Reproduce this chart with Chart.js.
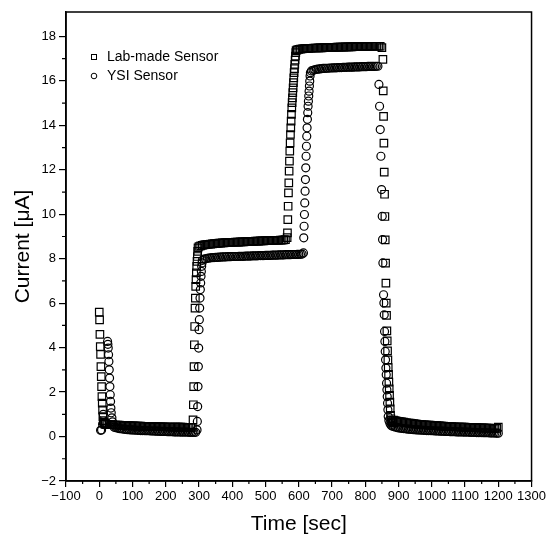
<!DOCTYPE html>
<html>
<head>
<meta charset="utf-8">
<script src="https://cdn.jsdelivr.net/npm/chart.js@4.4.0/dist/chart.umd.min.js"></script>
<style>
  body { margin: 0; background: #fff; }
</style>
</head>
<body>
<canvas id="chart" width="548" height="541"></canvas>
<script>
// Lab-made sensor (squares): time [sec] and current [uA], one line per stretch of the curve
let labTime = [
    0, 1, 2, 3, 4, 5, 6, 7, 8, 9, 10, 11, 12, 14, 16, 18,
    20, 25, 30, 35, 40, 45, 50, 55, 60, 65,
    70, 75, 80, 85, 90, 95, 100, 105, 110, 115,
    120, 125, 130, 135, 140, 145, 150, 155, 160, 165,
    170, 175, 180, 185, 190, 195, 200, 205, 210, 215,
    220, 225, 230, 235, 240, 245, 250, 255, 260, 265,
    270, 275, 280,
    282, 283, 284, 285, 286, 287, 288, 289, 290, 291, 292, 293, 294, 295, 296, 297,
    300, 305, 310, 315, 320, 325, 330, 335, 340, 345,
    350, 355, 360, 365, 370, 375, 380, 385, 390, 395,
    400, 405, 410, 415, 420, 425, 430, 435, 440, 445,
    450, 455, 460, 465, 470, 475, 480, 485, 490, 495,
    500, 505, 510, 515, 520, 525, 530, 535, 540, 545,
    550, 555, 560,
    565, 566, 567, 568, 569, 570, 571, 572, 573, 574, 575, 576, 577, 578,
    579, 580, 581, 582, 583, 584, 585, 586, 587, 588, 589, 590, 591, 592,
    595, 600, 605, 610, 615, 620, 625, 630, 635, 640,
    645, 650, 655, 660, 665, 670, 675, 680, 685, 690,
    695, 700, 705, 710, 715, 720, 725, 730, 735, 740,
    745, 750, 755, 760, 765, 770, 775, 780, 785, 790,
    795, 800, 805, 810, 815, 820, 825, 830, 835, 840,
    845, 850,
    853, 854, 855, 856, 857, 858, 859, 860, 861, 862, 863, 864, 865, 866,
    867, 868, 869, 870, 871, 872, 873, 874, 875, 876, 877, 879, 881, 883,
    885, 890, 895, 900, 905, 910, 915, 920, 925, 930,
    935, 940, 945, 950, 955, 960, 965, 970, 975, 980,
    985, 990, 995, 1000, 1005, 1010, 1015, 1020, 1025, 1030,
    1035, 1040, 1045, 1050, 1055, 1060, 1065, 1070, 1075, 1080,
    1085, 1090, 1095, 1100, 1105, 1110, 1115, 1120, 1125, 1130,
    1135, 1140, 1145, 1150, 1155, 1160, 1165, 1170, 1175, 1180,
    1185, 1190, 1195, 1200
]
let labCurrent = [
    5.6, 5.25, 4.6, 4.05, 3.7, 3.15, 2.7, 2.25, 1.8, 1.5, 1.2, 0.9, 0.72, 0.64, 0.6, 0.57,
    0.56, 0.55, 0.54, 0.53, 0.53, 0.52, 0.52, 0.51, 0.51, 0.5,
    0.5, 0.5, 0.49, 0.49, 0.49, 0.48, 0.48, 0.48, 0.47, 0.47,
    0.47, 0.47, 0.46, 0.46, 0.46, 0.46, 0.45, 0.45, 0.45, 0.45,
    0.45, 0.44, 0.44, 0.44, 0.44, 0.44, 0.43, 0.43, 0.43, 0.43,
    0.43, 0.42, 0.42, 0.42, 0.42, 0.42, 0.42, 0.41, 0.41, 0.41,
    0.41, 0.41, 0.41,
    0.75, 1.43, 2.25, 3.15, 4.13, 4.95, 5.78, 6.23, 6.76, 7.06, 7.36, 7.66, 7.88, 8.1, 8.33, 8.49,
    8.55, 8.58, 8.6, 8.62, 8.63, 8.64, 8.65, 8.66, 8.67, 8.68,
    8.68, 8.69, 8.7, 8.7, 8.71, 8.71, 8.72, 8.72, 8.73, 8.73,
    8.74, 8.74, 8.75, 8.75, 8.75, 8.76, 8.76, 8.76, 8.77, 8.77,
    8.77, 8.78, 8.78, 8.78, 8.79, 8.79, 8.79, 8.8, 8.8, 8.8,
    8.81, 8.81, 8.81, 8.82, 8.82, 8.82, 8.83, 8.83, 8.83, 8.84,
    8.84, 8.85, 8.86,
    8.95, 9.16, 9.76, 10.36, 10.96, 11.41, 11.94, 12.39, 12.84, 13.21, 13.59, 13.89, 14.19, 14.49,
    14.79, 15.02, 15.24, 15.47, 15.69, 15.92, 16.14, 16.37, 16.55, 16.74, 16.94, 17.12, 17.27, 17.36,
    17.4, 17.42, 17.43, 17.44, 17.45, 17.45, 17.46, 17.46, 17.47, 17.47,
    17.48, 17.48, 17.48, 17.49, 17.49, 17.49, 17.5, 17.5, 17.5, 17.5,
    17.51, 17.51, 17.51, 17.51, 17.52, 17.52, 17.52, 17.52, 17.52, 17.53,
    17.53, 17.53, 17.53, 17.53, 17.54, 17.54, 17.54, 17.54, 17.54, 17.55,
    17.55, 17.55, 17.55, 17.55, 17.55, 17.56, 17.56, 17.56, 17.56, 17.56,
    17.56, 17.5,
    16.97, 15.55, 14.4, 13.2, 11.9, 10.9, 9.9, 8.85, 7.8, 6.9, 6.0, 5.45, 4.75, 4.3,
    3.85, 3.45, 3.1, 2.8, 2.45, 2.15, 1.85, 1.55, 1.25, 0.95, 0.8, 0.72, 0.66, 0.62,
    0.74, 0.72, 0.7, 0.68, 0.67, 0.66, 0.65, 0.63, 0.62, 0.61,
    0.6, 0.59, 0.58, 0.57, 0.56, 0.55, 0.55, 0.54, 0.53, 0.53,
    0.52, 0.51, 0.51, 0.5, 0.5, 0.49, 0.49, 0.48, 0.48, 0.47,
    0.47, 0.46, 0.46, 0.45, 0.45, 0.45, 0.44, 0.44, 0.43, 0.43,
    0.43, 0.42, 0.42, 0.42, 0.41, 0.41, 0.41, 0.4, 0.4, 0.4,
    0.4, 0.39, 0.39, 0.39, 0.39, 0.38, 0.38, 0.38, 0.38, 0.37,
    0.37, 0.37, 0.37, 0.42
]

// YSI sensor (circles)
let ysiTime = [
    4, 7, 10, 12, 25, 26, 27, 28, 29, 30, 31, 32, 33, 34, 35, 36, 38, 40, 43,
    45, 50, 55, 60, 65, 70, 75, 80, 85, 90,
    95, 100, 105, 110, 115, 120, 125, 130, 135, 140,
    145, 150, 155, 160, 165, 170, 175, 180, 185, 190,
    195, 200, 205, 210, 215, 220, 225, 230, 235, 240,
    245, 250, 255, 260, 265, 270, 275, 280, 285, 290,
    294, 295, 296, 297, 298, 299, 300, 301, 302, 303, 304, 305, 306, 307, 308, 309, 310,
    315, 320, 325, 330, 335, 340, 345, 350, 355, 360,
    365, 370, 375, 380, 385, 390, 395, 400, 405, 410,
    415, 420, 425, 430, 435, 440, 445, 450, 455, 460,
    465, 470, 475, 480, 485, 490, 495, 500, 505, 510,
    515, 520, 525, 530, 535, 540, 545, 550, 555, 560,
    565, 570, 575, 580, 585, 590, 595, 600, 605, 610,
    614, 615, 616, 617, 618, 619, 620, 621, 622, 623, 624,
    625, 626, 627, 628, 629, 630, 631, 632, 633, 634, 635,
    638, 643, 648, 653, 658, 663, 668, 673, 678, 683,
    688, 693, 698, 703, 708, 713, 718, 723, 728, 733,
    738, 743, 748, 753, 758, 763, 768, 773, 778, 783,
    788, 793, 798, 803, 808, 813, 818, 823, 828, 833,
    838,
    841, 843, 845, 847, 849, 851, 852, 853, 855, 856, 857, 858, 859,
    860, 861, 862, 863, 864, 865, 866, 867, 868, 869, 871, 874, 877,
    880, 885, 890, 895, 900, 905, 910, 915, 920, 925,
    930, 935, 940, 945, 950, 955, 960, 965, 970, 975,
    980, 985, 990, 995, 1000, 1005, 1010, 1015, 1020, 1025,
    1030, 1035, 1040, 1045, 1050, 1055, 1060, 1065, 1070, 1075,
    1080, 1085, 1090, 1095, 1100, 1105, 1110, 1115, 1120, 1125,
    1130, 1135, 1140, 1145, 1150, 1155, 1160, 1165, 1170, 1175,
    1180, 1185, 1190, 1195, 1200
]
let ysiCurrent = [
    0.28, 0.3, 0.55, 1.0, 4.28, 4.15, 3.98, 3.68, 3.38, 3.0, 2.63, 2.25, 1.88, 1.58, 1.28, 1.07, 0.84, 0.66, 0.52,
    0.42, 0.4, 0.38, 0.36, 0.35, 0.34, 0.33, 0.32, 0.31, 0.31,
    0.3, 0.3, 0.29, 0.29, 0.28, 0.28, 0.27, 0.27, 0.27, 0.26,
    0.26, 0.26, 0.25, 0.25, 0.25, 0.24, 0.24, 0.24, 0.23, 0.23,
    0.23, 0.23, 0.22, 0.22, 0.22, 0.22, 0.21, 0.21, 0.21, 0.21,
    0.2, 0.2, 0.2, 0.2, 0.2, 0.19, 0.19, 0.19, 0.19, 0.19,
    0.3, 0.68, 1.35, 2.25, 3.15, 3.98, 4.81, 5.26, 5.78, 6.23, 6.61, 6.91, 7.21, 7.43, 7.66, 7.81, 7.93,
    7.98, 8.0, 8.02, 8.03, 8.04, 8.05, 8.05, 8.06, 8.06, 8.07,
    8.07, 8.08, 8.08, 8.08, 8.09, 8.09, 8.09, 8.1, 8.1, 8.1,
    8.1, 8.11, 8.11, 8.11, 8.11, 8.12, 8.12, 8.12, 8.12, 8.13,
    8.13, 8.13, 8.13, 8.14, 8.14, 8.14, 8.14, 8.15, 8.15, 8.15,
    8.15, 8.16, 8.16, 8.16, 8.16, 8.17, 8.17, 8.17, 8.17, 8.18,
    8.18, 8.18, 8.18, 8.19, 8.19, 8.19, 8.2, 8.2, 8.2, 8.21,
    8.26, 8.94, 9.46, 9.99, 10.51, 11.04, 11.56, 12.09, 12.61, 13.06, 13.51,
    13.89, 14.27, 14.57, 14.86, 15.09, 15.32, 15.54, 15.77, 15.99, 16.22, 16.37,
    16.45, 16.48, 16.5, 16.52, 16.53, 16.54, 16.55, 16.56, 16.56, 16.57,
    16.57, 16.58, 16.58, 16.59, 16.59, 16.59, 16.6, 16.6, 16.6, 16.61,
    16.61, 16.61, 16.62, 16.62, 16.62, 16.62, 16.63, 16.63, 16.63, 16.63,
    16.64, 16.64, 16.64, 16.64, 16.65, 16.65, 16.65, 16.65, 16.65, 16.66,
    16.66,
    15.84, 14.86, 13.81, 12.61, 11.11, 9.91, 8.86, 7.81, 6.38, 6.01, 5.48, 4.73, 4.28,
    3.83, 3.45, 3.08, 2.78, 2.4, 2.1, 1.8, 1.5, 1.2, 0.9, 0.72, 0.6, 0.52,
    0.48, 0.45, 0.43, 0.41, 0.39, 0.38, 0.37, 0.36, 0.35, 0.34,
    0.33, 0.33, 0.32, 0.31, 0.31, 0.3, 0.3, 0.29, 0.29, 0.28,
    0.28, 0.27, 0.27, 0.27, 0.26, 0.26, 0.25, 0.25, 0.25, 0.24,
    0.24, 0.24, 0.23, 0.23, 0.23, 0.22, 0.22, 0.22, 0.22, 0.21,
    0.21, 0.21, 0.21, 0.2, 0.2, 0.2, 0.2, 0.19, 0.19, 0.19,
    0.19, 0.18, 0.18, 0.18, 0.18, 0.17, 0.17, 0.17, 0.17, 0.16,
    0.16, 0.16, 0.16, 0.15, 0.15
]

let seriesNames = ["Lab-made Sensor", "YSI Sensor"]

let tickFont = { family: "'Liberation Sans', Arial, sans-serif", size: 13 }
let titleFont = { family: "'Liberation Sans', Arial, sans-serif", size: 21 }
let legendFont = "14px 'Liberation Sans', Arial, sans-serif"

function minusSign(v) {
    return v < 0 ? "\u2212" + Math.abs(v) : String(v)
}

// box around the plot, minor ticks and the legend inside the plot
let frame = {
    id: "frame",
    afterDraw(chart) {
        let ctx = chart.ctx
        let a = chart.chartArea
        let x = chart.scales.x
        let y = chart.scales.y
        ctx.save()
        ctx.strokeStyle = "#000"
        ctx.lineWidth = 1.5
        ctx.strokeRect(a.left, a.top, a.right - a.left, a.bottom - a.top)

        ctx.lineWidth = 1.2
        ctx.beginPath()
        for (let v = -50; v < 1300; v += 100) {
            let p = x.getPixelForValue(v)
            ctx.moveTo(p, a.bottom)
            ctx.lineTo(p, a.bottom + 3)
        }
        for (let v = -1; v < 19; v += 2) {
            let p = y.getPixelForValue(v)
            ctx.moveTo(a.left, p)
            ctx.lineTo(a.left - 4, p)
        }
        ctx.stroke()

        let lx = a.left + 28
        let ly = a.top + 45
        ctx.lineWidth = 1
        ctx.strokeRect(lx - 2.5, ly - 2.5, 5, 5)
        ctx.beginPath()
        ctx.arc(lx, ly + 19, 2.8, 0, Math.PI * 2)
        ctx.stroke()
        ctx.fillStyle = "#000"
        ctx.font = legendFont
        ctx.textBaseline = "middle"
        ctx.fillText(seriesNames[0], lx + 13, ly)
        ctx.fillText(seriesNames[1], lx + 13, ly + 19)
        ctx.restore()
    }
}

new Chart(document.getElementById("chart"), {
    type: "scatter",
    data: {
        datasets: [
            {
                label: seriesNames[0],
                data: labTime.map((t, i) => ({ x: t, y: labCurrent[i] })),
                pointStyle: "rect",
                pointRadius: 5.3,
                borderWidth: 1.2,
                borderColor: "#000",
                backgroundColor: "rgba(0,0,0,0)"
            },
            {
                label: seriesNames[1],
                data: ysiTime.map((t, i) => ({ x: t, y: ysiCurrent[i] })),
                pointStyle: "circle",
                pointRadius: 4,
                borderWidth: 1.2,
                borderColor: "#000",
                backgroundColor: "rgba(0,0,0,0)"
            }
        ]
    },
    options: {
        responsive: false,
        animation: false,
        devicePixelRatio: 1,
        layout: { padding: { top: 12, right: 15, left: 0, bottom: 0 } },
        plugins: {
            legend: { display: false },
            tooltip: { enabled: false }
        },
        scales: {
            x: {
                type: "linear",
                min: -100,
                max: 1300,
                afterFit: s => { s.height = 60 },
                ticks: { stepSize: 100, color: "#000", font: tickFont, padding: 2, maxRotation: 0, autoSkip: false, callback: minusSign },
                grid: { drawOnChartArea: false, color: "#000", tickLength: 6, lineWidth: 1.2 },
                border: { color: "#000", width: 1.5 },
                title: { display: true, text: "Time [sec]", color: "#000", font: titleFont, padding: { top: 0, bottom: 4 } }
            },
            y: {
                type: "linear",
                min: -2,
                max: 19.1,
                afterFit: s => { s.width = 66 },
                ticks: { stepSize: 2, includeBounds: false, color: "#000", font: tickFont, padding: 3, callback: minusSign },
                grid: { drawOnChartArea: false, color: "#000", tickLength: 7, lineWidth: 1.2 },
                border: { color: "#000", width: 1.5 },
                title: { display: true, text: "Current [\u03bcA]", color: "#000", font: titleFont, padding: { top: 11, bottom: 0 } }
            }
        }
    },
    plugins: [frame]
})
</script>
</body>
</html>
